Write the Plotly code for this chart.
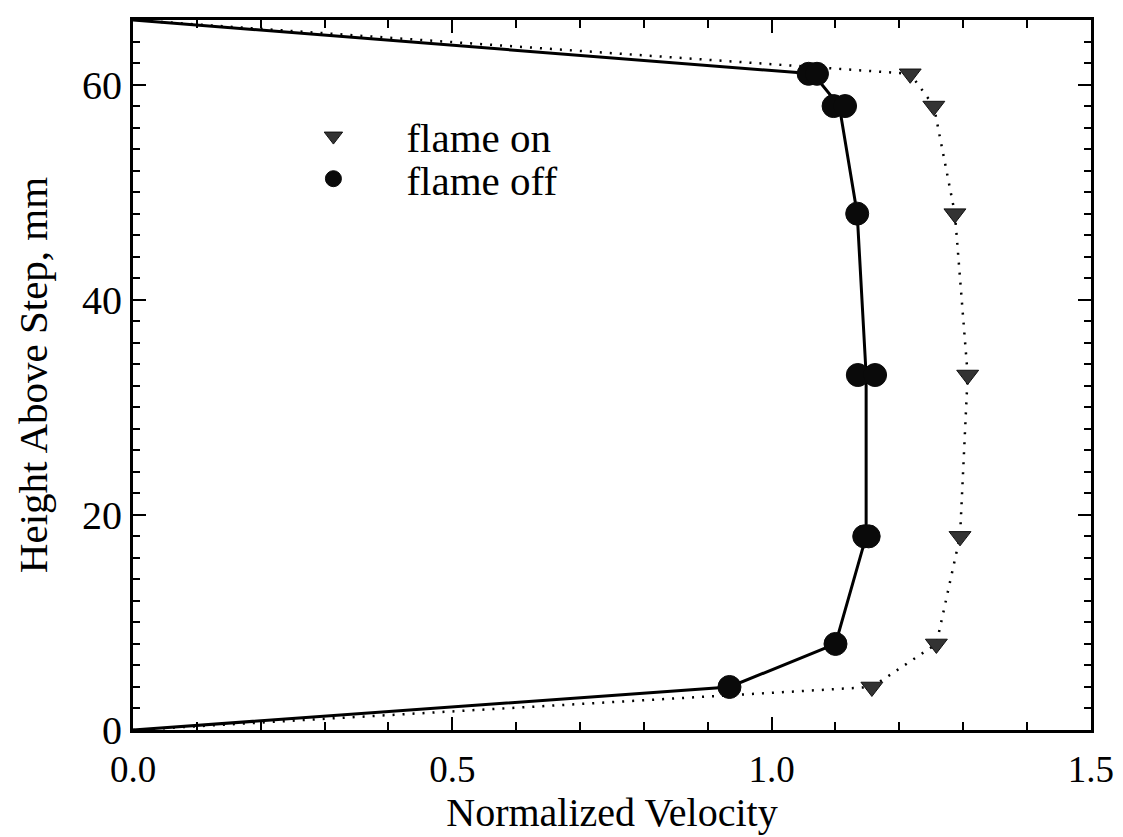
import plotly.graph_objects as go

# Measured points (height above step, mm ; normalized velocity)
on_height = [4, 8, 18, 33, 48, 58, 61]
on_vel = [1.157, 1.258, 1.295, 1.307, 1.287, 1.254, 1.217]

off_height = [4, 8, 18, 18, 33, 33, 48, 58, 58, 61, 61]
off_vel = [0.934, 1.100, 1.145, 1.152, 1.135, 1.162, 1.134, 1.097, 1.115, 1.058, 1.071]

# Profile lines (wall to wall)
on_line_h = [0, 4, 8, 18, 33, 48, 58, 61, 66]
on_line_v = [0, 1.157, 1.258, 1.295, 1.307, 1.287, 1.254, 1.217, 0]
off_line_h = [0, 4, 8, 18, 33, 48, 58, 61, 66]
off_line_v = [0, 0.934, 1.100, 1.148, 1.148, 1.134, 1.106, 1.065, 0]

FONT = "Liberation Serif, Times New Roman, serif"

fig = go.Figure()
fig.add_trace(go.Scatter(x=on_line_v, y=on_line_h, mode="lines",
                         line=dict(color="black", width=2.5, dash="2px,8px"),
                         showlegend=False, hoverinfo="skip"))
fig.add_trace(go.Scatter(x=off_line_v, y=off_line_h, mode="lines",
                         line=dict(color="black", width=3),
                         showlegend=False, hoverinfo="skip"))
fig.add_trace(go.Scatter(x=on_vel, y=on_height, mode="markers", name="flame on",
                         legend="legend",
                         marker=dict(symbol="triangle-down", size=19, color="#333333",
                                     line=dict(color="#111111", width=1))))
fig.add_trace(go.Scatter(x=off_vel, y=off_height, mode="markers", name="flame off",
                         legend="legend2",
                         marker=dict(symbol="circle", size=23, color="#0a0a0a",
                                     line=dict(color="#0a0a0a", width=1))))

axis_common = dict(
    showgrid=False, zeroline=False, showline=True, linecolor="black", linewidth=3,
    mirror="allticks", ticks="inside", tickcolor="black", tickwidth=2,
)

fig.update_xaxes(range=[0, 1.5001], tickvals=[0, 0.5, 1.0, 1.5],
                 ticktext=["0.0", "0.5", "1.0", "1.5"], ticklen=13,
                 tickfont=dict(family=FONT, size=37, color="black"),
                 ticklabelstandoff=5, ticklabeloverflow="allow",
                 minor=dict(dtick=0.1, ticks="inside", ticklen=8, tickwidth=2, tickcolor="black"),
                 title=dict(text="Normalized Velocity", font=dict(family=FONT, size=40, color="black"),
                            standoff=0),
                 **axis_common)
fig.update_yaxes(range=[0, 66], tickvals=[0, 20, 40, 60], ticklen=13,
                 tickfont=dict(family=FONT, size=40, color="black"),
                 minor=dict(dtick=2, ticks="inside", ticklen=7, tickwidth=2, tickcolor="black"),
                 title=dict(text="Height Above Step, mm", font=dict(family=FONT, size=41, color="black"),
                            standoff=22),
                 **axis_common)

leg_common = dict(xanchor="left", yanchor="middle", x=0.133,
                  font=dict(family=FONT, size=41, color="black"),
                  bgcolor="rgba(0,0,0,0)", itemwidth=136)

fig.update_layout(
    width=1115, height=829,
    margin=dict(l=125, r=23, t=9, b=107),
    plot_bgcolor="white", paper_bgcolor="white",
    font=dict(family=FONT, color="black"),
    legend=dict(y=0.836, **leg_common),
    legend2=dict(y=0.776, **leg_common),
)

fig.write_html("out.html")
